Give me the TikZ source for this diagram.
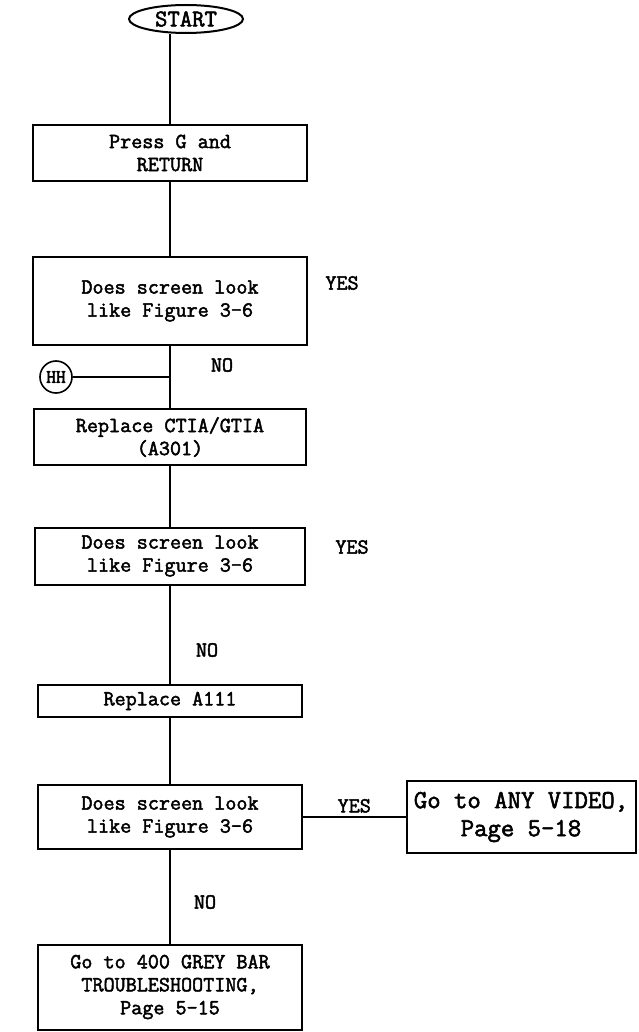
\documentclass[tikz,border=0pt]{standalone}
\usepackage{fontspec}
\newfontfamily\typerfont{Latin Modern Mono}[FakeBold=2.2]
\usetikzlibrary{shapes.geometric, positioning, calc}

\begin{document}
\begin{tikzpicture}[
    x=1pt, y=-1pt,
    block/.style={rectangle, draw=black, line width=2pt, inner sep=0pt, align=center, font=\typerfont\bfseries\fontsize{21.5}{23}\selectfont},
    terminal/.style={ellipse, draw=black, line width=2pt, minimum width=114pt, minimum height=28pt, inner sep=0pt, font=\typerfont\bfseries\fontsize{24}{26}\selectfont},
    offpage/.style={circle, draw=black, line width=1.6pt, minimum size=32pt, inner sep=0pt, font=\typerfont\bfseries\fontsize{19}{21}\selectfont},
    answer/.style={font=\typerfont\bfseries\fontsize{21.5}{23}\selectfont},
    line/.style={line width=2pt},
]
\useasboundingbox (0,0) rectangle (638,1032);

% main column
\node[terminal] (start) at (186,19) {START};
\node[block, minimum width=274pt, minimum height=56pt] (press) at (170,153) {Press G and\\RETURN};
\node[block, minimum width=274pt, minimum height=88pt] (check1) at (170,301) {Does screen look\\like Figure 3-6};
\node[block, minimum width=272pt, minimum height=56pt] (ctia) at (170,437) {Replace CTIA/GTIA\\(A301)};
\node[block, minimum width=270pt, minimum height=57pt] (check2) at (170,556) {Does screen look\\like Figure 3-6};
\node[block, minimum width=264pt, minimum height=32pt] (a111) at (170,701) {Replace A111};
\node[block, minimum width=264pt, minimum height=64pt] (check3) at (170,817) {Does screen look\\like Figure 3-6};
\node[block, minimum width=264pt, minimum height=85pt] (greybar) at (170,987) {Go to 400 GREY BAR\\TROUBLESHOOTING,\\Page 5-15};

% side exits
\node[block, minimum width=229pt, minimum height=72pt, font=\typerfont\bfseries\fontsize{26}{28}\selectfont] (video) at (521,817) {Go to ANY VIDEO,\\Page 5-18};
\node[offpage] (hh) at (56,377) {HH};
\coordinate (hhjoin) at (170,377);

\node[answer] (yes1) at (342,283) {YES};
\node[answer] (yes2) at (352,547) {YES};
\node[answer] (no1) at (222,365) {NO};
\node[answer] (no2) at (207,650) {NO};
\node[answer] (no3) at (205,902) {NO};

\draw[line] (start.south -| press.north) -- (press);
\draw[line] (press) -- (check1);
\draw[line] (check1) -- (ctia);
\draw[line] (hh) -- (hhjoin);
\draw[line] (ctia) -- (check2);
\draw[line] (check2) -- (a111);
\draw[line] (a111) -- (check3);
\draw[line] (check3) -- (greybar);
\draw[line] (check3) -- (video) node[midway, above, answer] {YES};

\end{tikzpicture}
\end{document}
